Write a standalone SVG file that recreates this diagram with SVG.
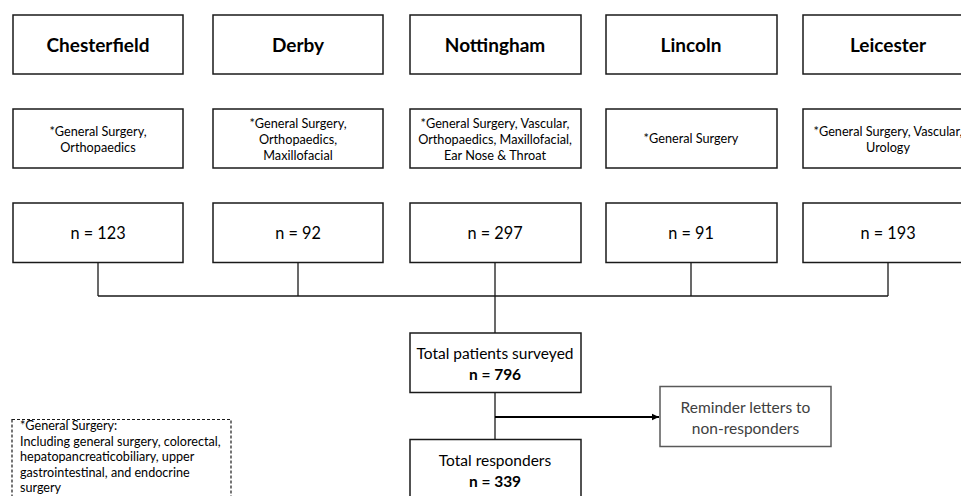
<svg xmlns="http://www.w3.org/2000/svg" width="961" height="496" viewBox="0 0 961 496">
<style>
.box{fill:#fff;stroke:#1a1a1a;stroke-width:1.5}
.gbox{fill:#fff;stroke:#595959;stroke-width:1.5}
.t{font-family:Lato,"Liberation Sans",sans-serif;fill:#000;text-anchor:middle}
.title{font-size:19px;font-weight:bold}
.spec{font-size:12.7px}
.n{font-size:16.3px}
.tot{font-size:15.5px}
.b{font-weight:bold}
.grey{fill:#404040}
.leg{font-family:Lato,"Liberation Sans",sans-serif;font-size:12.6px;fill:#000}
.ln{stroke:#1a1a1a;stroke-width:1.3;fill:none}
</style>
<defs>
<marker id="arr" markerWidth="8" markerHeight="8" refX="7" refY="4" orient="auto" markerUnits="userSpaceOnUse">
<path d="M0,0.8 L7,4 L0,7.2 Z" fill="#000"/>
</marker>
</defs>
<g id="connectors">
<path class="ln" d="M98,262.5 V296 M298,262.5 V296 M691,262.5 V296 M888,262.5 V296 M98,296 H888 M495,262.5 V333 M495,392.5 V439.5"/>
<path d="M495,417 H659" stroke="#000" stroke-width="2" fill="none" marker-end="url(#arr)"/>
</g>
<g id="chesterfield"><rect class="box" x="13" y="15" width="170" height="59"/><text class="t title" x="98" y="52">Chesterfield</text></g>
<g id="derby"><rect class="box" x="213" y="15" width="170" height="59"/><text class="t title" x="298" y="52">Derby</text></g>
<g id="nottingham"><rect class="box" x="410" y="15" width="171" height="59"/><text class="t title" x="495" y="52">Nottingham</text></g>
<g id="lincoln"><rect class="box" x="606" y="15" width="171" height="59"/><text class="t title" x="691" y="52">Lincoln</text></g>
<g id="leicester"><rect class="box" x="803" y="15" width="171" height="59"/><text class="t title" x="888" y="52">Leicester</text></g>
<g id="chesterfield-spec"><rect class="box" x="13" y="109" width="170" height="59"/><text class="t spec" x="98" y="135.5">*General Surgery,</text><text class="t spec" x="98" y="151.5">Orthopaedics</text></g>
<g id="derby-spec"><rect class="box" x="213" y="109" width="170" height="59"/><text class="t spec" x="298" y="128">*General Surgery,</text><text class="t spec" x="298" y="144">Orthopaedics,</text><text class="t spec" x="298" y="160">Maxillofacial</text></g>
<g id="nottingham-spec"><rect class="box" x="410" y="109" width="171" height="59"/><text class="t spec" x="495" y="128">*General Surgery, Vascular,</text><text class="t spec" x="495" y="144">Orthopaedics, Maxillofacial,</text><text class="t spec" x="495" y="160">Ear Nose &amp; Throat</text></g>
<g id="lincoln-spec"><rect class="box" x="606" y="109" width="171" height="59"/><text class="t spec" x="691" y="143">*General Surgery</text></g>
<g id="leicester-spec"><rect class="box" x="803" y="109" width="171" height="59"/><text class="t spec" x="888" y="135.5">*General Surgery, Vascular,</text><text class="t spec" x="888" y="151.5">Urology</text></g>
<g id="chesterfield-n"><rect class="box" x="13" y="203" width="170" height="59.5"/><text class="t n" x="98" y="239">n = 123</text></g>
<g id="derby-n"><rect class="box" x="213" y="203" width="170" height="59.5"/><text class="t n" x="298" y="239">n = 92</text></g>
<g id="nottingham-n"><rect class="box" x="410" y="203" width="171" height="59.5"/><text class="t n" x="495" y="239">n = 297</text></g>
<g id="lincoln-n"><rect class="box" x="606" y="203" width="171" height="59.5"/><text class="t n" x="691" y="239">n = 91</text></g>
<g id="leicester-n"><rect class="box" x="803" y="203" width="171" height="59.5"/><text class="t n" x="888" y="239">n = 193</text></g>
<g id="total-surveyed"><rect class="box" x="410" y="333" width="171" height="59.5"/><text class="t tot" x="495" y="359">Total patients surveyed</text><text class="t tot b" x="495" y="380">n = 796</text></g>
<g id="reminder"><rect class="gbox" x="660" y="386.5" width="171" height="60"/><text class="t tot grey" x="745.5" y="413">Reminder letters to</text><text class="t tot grey" x="745.5" y="433.5">non-responders</text></g>
<g id="total-responders"><rect class="box" x="410" y="439.5" width="171" height="70"/><text class="t tot" x="495" y="466">Total responders</text><text class="t tot b" x="495" y="487">n = 339</text></g>
<g id="legend"><rect x="12" y="419.5" width="219" height="90" fill="#fff" stroke="#1a1a1a" stroke-width="1.2" stroke-dasharray="3,2"/>
<text class="leg" x="20" y="430">*General Surgery:</text>
<text class="leg" x="20" y="445.5">Including general surgery, colorectal,</text>
<text class="leg" x="20" y="461">hepatopancreaticobiliary, upper</text>
<text class="leg" x="20" y="476.5">gastrointestinal, and endocrine</text>
<text class="leg" x="20" y="492">surgery</text></g>
</svg>
